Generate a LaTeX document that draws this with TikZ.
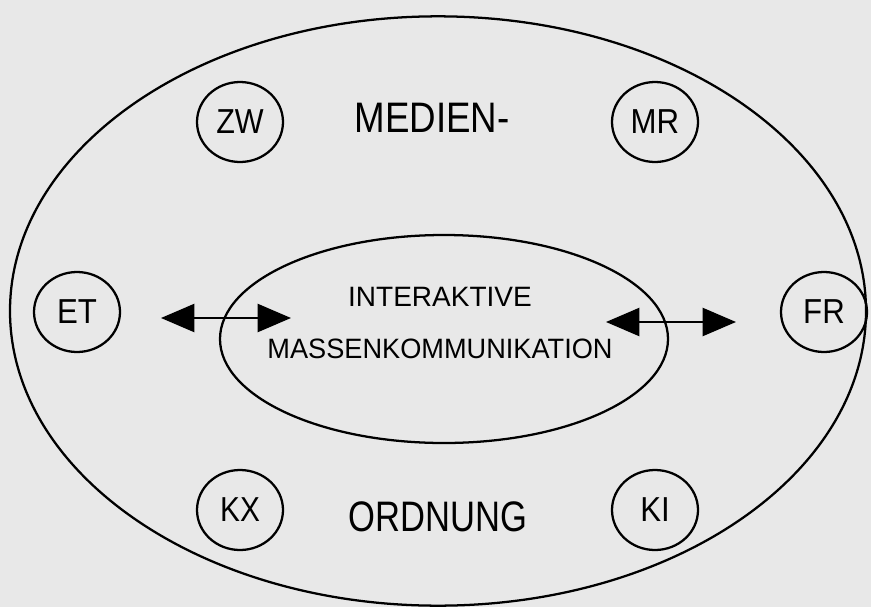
\documentclass[tikz,border=0pt]{standalone}
\usepackage{fontspec}
\setmainfont{Liberation Sans}
\usetikzlibrary{shapes.geometric,arrows.meta}
\definecolor{bgc}{HTML}{E8E8E8}
\newcommand{\nrw}[2]{\scalebox{#1}[1]{#2}}
\begin{document}
\begin{tikzpicture}[x=0.75pt,y=-0.75pt,
  ring/.style={draw,ellipse,line width=1.7pt,inner sep=0pt},
  smallring/.style={ring,minimum width=64.5pt,minimum height=60pt,font=\fontsize{26}{26}\selectfont},
  bigword/.style={inner sep=0pt,font=\fontsize{32}{32}\selectfont},
  midword/.style={inner sep=0pt,font=\fontsize{21}{21}\selectfont},
  dblarrow/.style={line width=1.7pt,{Triangle[length=25pt,width=21pt]}-{Triangle[length=25pt,width=21pt]}}]
\fill[bgc] (0,0) rectangle (871,607);
\useasboundingbox (0,0) rectangle (871,607);
% ellipses
\node[ring,minimum width=642pt,minimum height=442pt] (outer) at (438,311) {};
\node[ring,minimum width=336pt,minimum height=156pt] (inner) at (444,339) {};
% small circles
\node[smallring] (zw) at (240,122) {\nrw{0.88}{ZW}};
\node[smallring] (mr) at (655,122) {\nrw{0.9}{MR}};
\node[smallring] (et) at (77,312) {\nrw{0.9}{ET}};
\node[smallring] (fr) at (824,312) {\nrw{0.9}{FR}};
\node[smallring] (kx) at (240,510) {\nrw{0.86}{KX}};
\node[smallring] (ki) at (655,510) {\nrw{0.9}{KI}};
% words
\node[bigword] (medien) at (432,118) {\nrw{0.86}{MEDIEN-}};
\node[bigword] (ordnung) at (438,517) {\nrw{0.81}{ORDNUNG}};
\node[midword] (inter) at (440,297) {INTERAKTIVE};
\node[midword] (massen) at (440,349) {\nrw{0.97}{MASSENKOMMUNIKATION}};
% arrows
\coordinate (la) at (161,318);
\coordinate (lb) at (291,318);
\coordinate (ra) at (606,322);
\coordinate (rb) at (736,322);
\draw[dblarrow] (la) -- (lb);
\draw[dblarrow] (ra) -- (rb);
\end{tikzpicture}
\end{document}
